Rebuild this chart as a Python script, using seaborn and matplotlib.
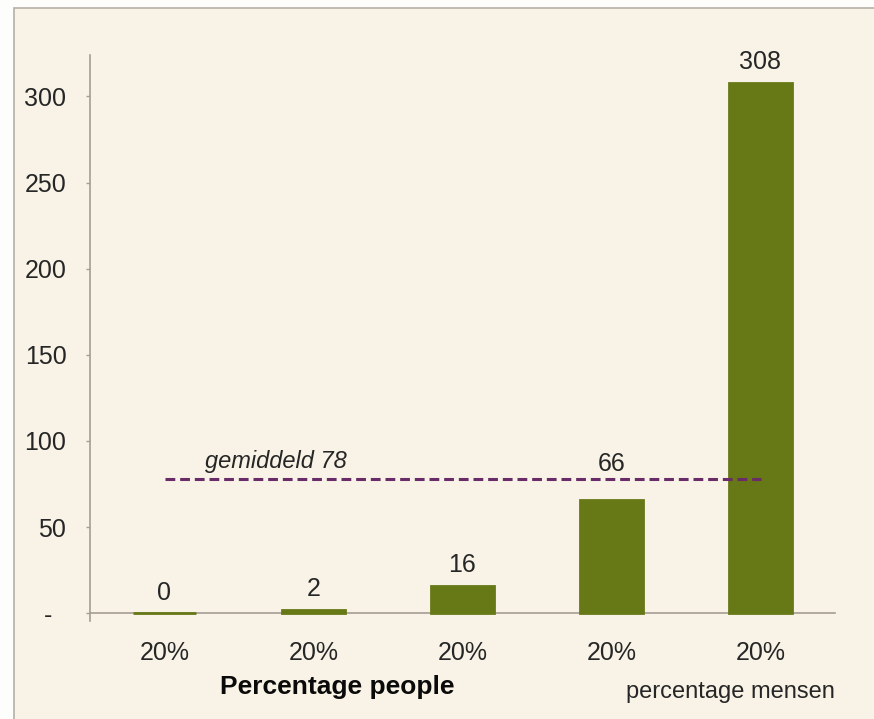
import matplotlib
matplotlib.use("Agg")
import matplotlib.pyplot as plt
from matplotlib.patches import Rectangle
import seaborn as sns

# Income quintiles and their values
quintiles = ["Q1", "Q2", "Q3", "Q4", "Q5"]
values = [0, 2, 16, 66, 308]
tick_labels = ["20%", "20%", "20%", "20%", "20%"]
mean_value = 78
mean_label = "gemiddeld 78"
y_ticks = [0, 50, 100, 150, 200, 250, 300]
y_tick_labels = ["-  ", "50", "100", "150", "200", "250", "300"]

BAR = "#677816"
BG = "#f8f3e6"
AXIS = "#a69d94"
TEXT = "#262626"

sns.set_theme(style="white")
plt.rcParams["font.family"] = ["Liberation Sans", "DejaVu Sans"]

fig = plt.figure(figsize=(8.74, 7.19), dpi=100, facecolor="#fdfdfb")
# cream panel behind the chart
fig.patches.append(Rectangle((14 / 874, -0.01), 1.0, 1 - 8 / 719 + 0.01,
                             transform=fig.transFigure, facecolor=BG,
                             edgecolor="#b5b0a6", linewidth=1.2, zorder=-5))

ax = fig.add_axes([90 / 874, 98 / 719, (835 - 90) / 874, (621 - 55) / 719])
ax.set_zorder(2)
ax.set_facecolor("none")

sns.barplot(x=quintiles, y=values, color=BAR, saturation=1, width=0.42, ax=ax)
for p in ax.patches:
    p.set_edgecolor(BAR)
    p.set_linewidth(2)
    p.set_zorder(3)

ax.set_xlim(-0.5, 4.5)
ax.set_ylim(-4.5, 324)

# average line
ax.hlines(mean_value, 0, 4, colors="#6a2c68", linestyles=(0, (3.2, 1.6)), linewidth=2.2, zorder=4)
ax.annotate(mean_label, (0.75, mean_value), xytext=(0, 4), textcoords="offset points",
            ha="center", va="bottom", fontsize=17, style="italic", color=TEXT)

# value labels; a label that would sit on the average line goes above it
for i, v in enumerate(values):
    base, offset = v, 6
    if mean_value - 25 < v < mean_value:
        base, offset = mean_value, 2
    ax.annotate(str(v), (i, base), xytext=(0, offset), textcoords="offset points",
                ha="center", va="bottom", fontsize=18, color=TEXT)

for s in ["top", "right"]:
    ax.spines[s].set_visible(False)
ax.spines["bottom"].set_position(("data", 0))
for s in ["left", "bottom"]:
    ax.spines[s].set_color(AXIS)
    ax.spines[s].set_linewidth(1.2)

ax.set_yticks(y_ticks)
ax.set_yticklabels(y_tick_labels)
ax.tick_params(axis="y", direction="out", length=3, width=1, color=AXIS,
               pad=14, labelsize=18, labelcolor=TEXT, left=True)
ax.set_xticks(range(len(quintiles)))
ax.set_xticklabels(tick_labels)
ax.tick_params(axis="x", length=0, pad=20, labelsize=18, labelcolor=TEXT)
ax.set_xlabel("")
ax.set_ylabel("")

fig.text(337 / 874, 1 - 687 / 719, "Percentage people", ha="center", va="center",
         fontsize=19, fontweight="bold", color="#0a0a0a")
fig.text(835 / 874, 1 - 692 / 719, "percentage mensen", ha="right", va="center",
         fontsize=17, color=TEXT)

fig.savefig("out.png", dpi=100, facecolor=fig.get_facecolor())
